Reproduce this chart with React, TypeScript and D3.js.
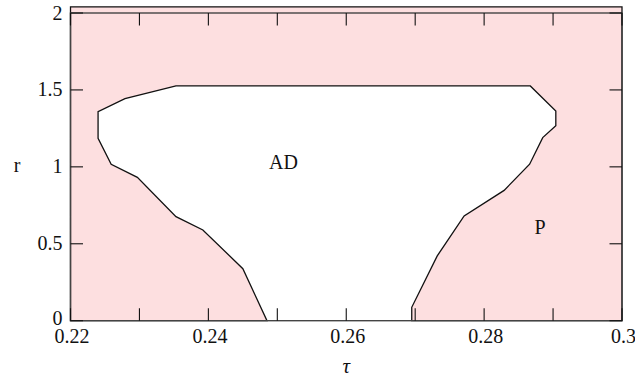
import React from "react";
import * as d3 from "d3";

// Boundary of the AD region (tau, r), traced from the bottom-left up and around
const leftTau = [0.2485, 0.2450, 0.2392, 0.2353, 0.2297, 0.2259, 0.2240, 0.2240, 0.2279, 0.2353];
const leftR = [0.0, 0.338, 0.590, 0.676, 0.932, 1.017, 1.186, 1.359, 1.443, 1.526];
const rightTau = [0.2867, 0.2904, 0.2904, 0.2885, 0.2866, 0.2829, 0.2771, 0.2732, 0.2695, 0.2695];
const rightR = [1.526, 1.363, 1.268, 1.190, 1.017, 0.847, 0.681, 0.421, 0.087, 0.0];

const xTicks = [0.22, 0.23, 0.24, 0.25, 0.26, 0.27, 0.28, 0.29, 0.3];
const xTickLabels = ["0.22", "", "0.24", "", "0.26", "", "0.28", "", "0.3"];
const yTicks = [0, 0.5, 1, 1.5, 2];
const yTickLabels = ["0", "0.5", "1", "1.5", "2"];

const regionLabels = [
  { text: "AD", tau: 0.2509, r: 0.985 },
  { text: "P", tau: 0.2881, r: 0.565 },
];

const tauDomain = [0.22, 0.3];
const rDomain = [0, 2];
const shadeTop = 2.04;

const W = 635;
const H = 379;
const FONT = "Liberation Serif, Times New Roman, Times, serif";

export default function App() {
  const x = d3.scaleLinear().domain(tauDomain).range([70.5, 622]);
  const y = d3.scaleLinear().domain(rDomain).range([320.7, 13]);

  const boundary: [number, number][] = [
    ...leftTau.map((t, i) => [t, leftR[i]] as [number, number]),
    ...rightTau.map((t, i) => [t, rightR[i]] as [number, number]),
  ];

  // Shaded P region: the full box with the AD region cut out of its lower edge
  const pRegion: [number, number][] = [
    [tauDomain[0], 0],
    [tauDomain[0], shadeTop],
    [tauDomain[1], shadeTop],
    [tauDomain[1], 0],
    ...[...boundary].reverse(),
    [tauDomain[0], 0],
  ];
  const line = d3
    .line<[number, number]>()
    .x((d) => x(d[0]))
    .y((d) => y(d[1]));

  const x0 = x(tauDomain[0]);
  const x1 = x(tauDomain[1]);
  const y0 = y(rDomain[0]);
  const y1 = y(rDomain[1]);
  const tickLen = 12.5;

  return (
    <svg
      width={W}
      height={H}
      style={{ position: "absolute", left: 0, top: 0, display: "block", background: "#fff", fontFamily: FONT }}
    >
      <path
        d={line(pRegion) + "Z"}
        fill="#fddfe0"
        stroke="#111"
        strokeWidth={1.3}
        strokeLinejoin="miter"
      />
      {/* frame */}
      <rect x={x0} y={y1} width={x1 - x0} height={y0 - y1} fill="none" stroke="#444" strokeWidth={1.4} />
      {/* x ticks, bottom and top */}
      {xTicks.map((t, i) => (
        <g key={"xt" + i}>
          <line x1={x(t)} x2={x(t)} y1={y0} y2={y0 - tickLen} stroke="#111" strokeWidth={1.1} />
          <line x1={x(t)} x2={x(t)} y1={y1} y2={y1 + tickLen} stroke="#111" strokeWidth={1.1} />
          {xTickLabels[i] && (
            <text
              x={x(t) + 1.5}
              y={y0 + 22.5}
              textAnchor="middle"
              fontFamily={FONT}
              fontSize={20}
              fill="#111"
            >
              {xTickLabels[i]}
            </text>
          )}
        </g>
      ))}
      {/* y ticks, left and right */}
      {yTicks.map((r, i) => (
        <g key={"yt" + i}>
          <line x1={x0} x2={x0 + tickLen} y1={y(r)} y2={y(r)} stroke="#111" strokeWidth={1.1} />
          <line x1={x1} x2={x1 - tickLen} y1={y(r)} y2={y(r)} stroke="#111" strokeWidth={1.1} />
          <text
            x={x0 - 8}
            y={y(r) + (r === 0 ? 4 : 6.5)}
            textAnchor="end"
            fontFamily={FONT}
            fontSize={20}
            fill="#111"
          >
            {yTickLabels[i]}
          </text>
        </g>
      ))}
      {/* axis titles */}
      <text x={17} y={171.5} textAnchor="middle" fontFamily={FONT} fontSize={20} fill="#111">
        r
      </text>
      <text
        x={x(0.26)}
        y={373}
        textAnchor="middle"
        fontFamily={FONT}
        fontStyle="italic"
        fontSize={21}
        fill="#111"
      >
        τ
      </text>
      {regionLabels.map((d) => (
        <text
          key={d.text}
          x={x(d.tau)}
          y={y(d.r)}
          textAnchor="middle"
          fontFamily={FONT}
          fontSize={20}
          fill="#111"
        >
          {d.text}
        </text>
      ))}
    </svg>
  );
}
